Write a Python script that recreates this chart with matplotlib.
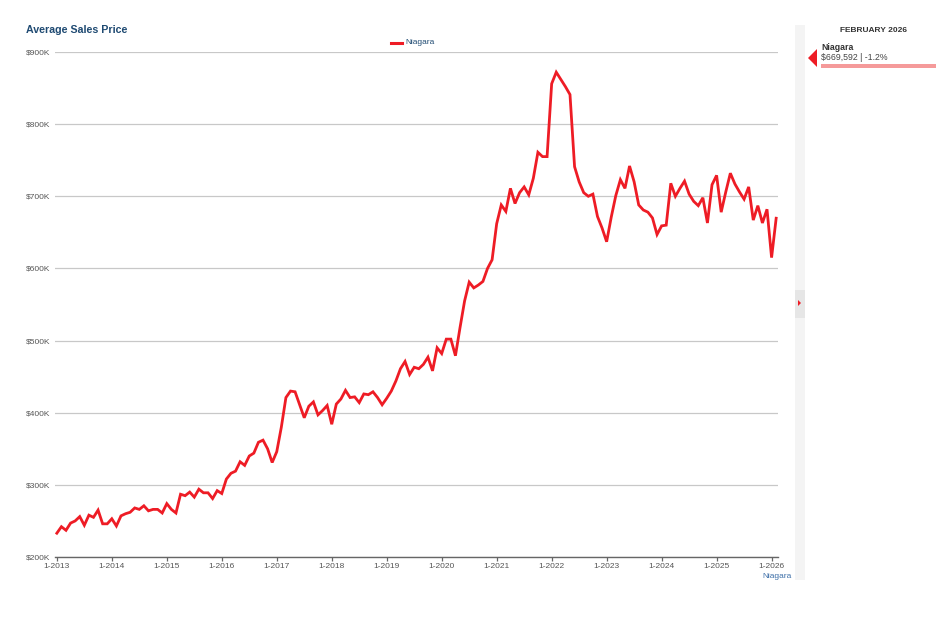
import matplotlib.pyplot as plt
from matplotlib.patches import Rectangle, Polygon
import numpy as np

plt.rcParams['font.family'] = ['Liberation Sans', 'DejaVu Sans']

# monthly average sales price (thousands of $), Jan 2013 .. Feb 2026
prices = [
    233, 242, 237, 247, 250, 256, 244, 258, 255, 265, 246, 246,   # 2013
    253, 243, 257, 260, 262, 268, 266, 271, 264, 266, 266, 261,   # 2014
    274, 266, 261, 287, 285, 290, 283, 294, 289, 289, 281, 292,   # 2015
    288, 308, 316, 319, 332, 327, 340, 344, 359, 362, 350, 331,   # 2016
    346, 380, 421, 430, 429, 411, 393, 409, 415, 397, 403, 410,   # 2017
    384, 412, 419, 431, 421, 422, 414, 426, 425, 429, 421, 411,   # 2018
    420, 430, 444, 461, 471, 453, 463, 461, 467, 477, 458, 490,   # 2019
    482, 502, 502, 479, 518, 555, 581, 573, 577, 582, 600, 612,   # 2020
    662, 688, 679, 711, 690, 705, 713, 702, 725, 761, 755, 755,   # 2021
    856, 872, 862, 852, 841, 741, 720, 705, 700, 703, 672, 656,   # 2022
    637, 671, 701, 723, 711, 742, 720, 688, 681, 678, 670, 647,   # 2023
    659, 660, 718, 700, 711, 721, 703, 693, 687, 698, 663, 716,   # 2024
    729, 678, 706, 732, 717, 706, 696, 713, 667, 687, 663, 682,   # 2025
    615, 669.592,                                                 # 2026
]
years = list(range(2013, 2027))
tick_labels = ["1-%d" % y for y in years]
y_ticks = [200, 300, 400, 500, 600, 700, 800, 900]
series_name = "Niagara"
title = "Average Sales Price"
panel_month = "FEBRUARY 2026"
panel_value = "$669,592 | -1.2%"

W, H = 945, 619
fig = plt.figure(figsize=(W / 100, H / 100), dpi=100)

RED = "#ee1c25"
GRID = "#c8c8c8"
TXT = "#555555"
NAVY = "#1f4a72"

# main chart, placed in pixel coords
left, right, top, bottom = 55, 778, 52, 557
ax = fig.add_axes([left / W, 1 - bottom / H, (right - left) / W, (bottom - top) / H])
x = np.arange(len(prices))
ax.plot(x, prices, color=RED, lw=2.0, solid_joinstyle="miter", zorder=3)
ax.set_xlim(-0.4, 157.4)
ax.set_ylim(200, 900)

ax.set_yticks(y_ticks)
ax.set_yticklabels(["$%dK" % v for v in y_ticks])
ax.yaxis.grid(True, color=GRID, lw=0.9)
ax.tick_params(axis="y", length=0, labelsize=6, labelcolor=TXT, pad=0)
for lab in ax.get_yticklabels():
    lab.set_horizontalalignment("left")
    lab.set_x((26 - left) / (right - left))

ax.set_xticks([12 * i for i in range(len(years))])
ax.set_xticklabels(tick_labels)
ax.tick_params(axis="x", length=3, width=0.9, color="#666666", labelsize=6,
               labelcolor=TXT, pad=1.5)

for s in ["top", "right", "left"]:
    ax.spines[s].set_visible(False)
ax.spines["bottom"].set_color("#666666")
ax.spines["bottom"].set_linewidth(1.0)

# title and legend
fig.text(26 / W, 1 - 30 / H, title, fontsize=7.7, fontweight="bold",
         color=NAVY, va="center", ha="left")
fig.add_artist(plt.Line2D([391 / W, 402 / W], [1 - 43 / H, 1 - 43 / H],
                          color=RED, lw=2.2))
fig.text(405 / W, 1 - 43 / H, series_name, fontsize=6, color=NAVY,
         va="center", ha="left")
fig.text(792 / W, 1 - 577 / H, series_name, fontsize=6, color="#3d6fa8",
         va="center", ha="right")

# right side panel
pa = fig.add_axes([0, 0, 1, 1], zorder=-1)
pa.set_xlim(0, W)
pa.set_ylim(H, 0)
pa.axis("off")
pa.add_patch(Rectangle((795, 25), 10, 555, color="#f4f4f4", lw=0))
pa.add_patch(Rectangle((795, 290), 10, 28, color="#e6e6e6", lw=0))
pa.add_patch(Polygon([[798, 300], [801, 303], [798, 306]], color=RED, lw=0))

ov = fig.add_axes([0, 0, 1, 1], zorder=5)
ov.set_xlim(0, W)
ov.set_ylim(H, 0)
ov.axis("off")
ov.text(873, 31, panel_month, fontsize=6, fontweight="bold", color="#333333",
        ha="center", va="center")
ov.add_patch(Polygon([[808, 58], [817, 49], [817, 67]], color=RED, lw=0))
ov.text(821, 48, series_name, fontsize=6.3, fontweight="bold", color="#333333",
        ha="left", va="center")
ov.text(821, 58, panel_value, fontsize=6.3, color="#444444", ha="left", va="center")
ov.add_patch(Rectangle((821, 64), 115, 4, color="#f59a9a", lw=0))

fig.savefig("out.png", dpi=100, facecolor="white")
